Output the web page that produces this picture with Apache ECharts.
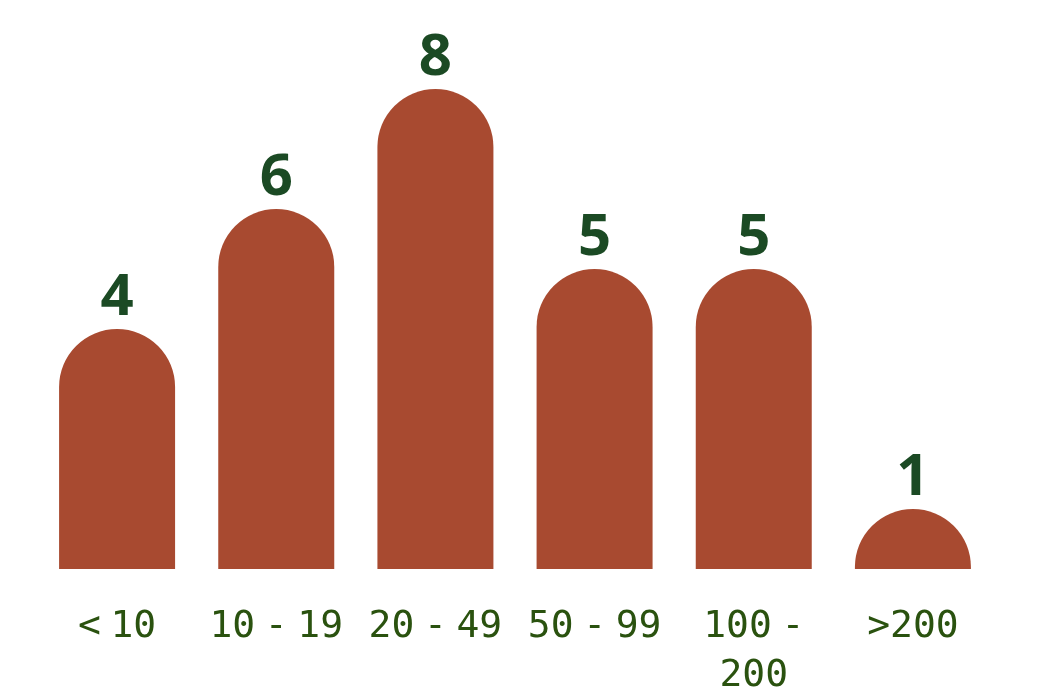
<!DOCTYPE html>
<html>
<head>
<meta charset="utf-8">
<script src="https://cdn.jsdelivr.net/npm/echarts@6/dist/echarts.min.js"></script>
<style>
  html, body { margin: 0; padding: 0; background: #ffffff; }
  #chart { width: 1043px; height: 695px; }
</style>
</head>
<body>
<div id="chart"></div>
<script>
const categories = ['< 10', '10 - 19', '20 - 49', '50 - 99', '100 -\n200', '>200'];
const counts = [4, 6, 8, 5, 5, 1];

const chart = echarts.init(document.getElementById('chart'), null, { renderer: 'canvas' });
chart.setOption({
  backgroundColor: '#ffffff',
  animation: false,
  grid: { left: 37.5, right: 50.5, top: 29, bottom: 126, containLabel: false, outerBoundsMode: 'none' },
  xAxis: {
    type: 'category',
    data: categories,
    axisLine: { show: false },
    axisTick: { show: false },
    axisLabel: {
      interval: 0,
      margin: 34,
      fontFamily: 'DejaVu Sans Mono',
      fontSize: 38,
      lineHeight: 49,
      color: '#2a520f',
      formatter: function (v) {
        return v.split('\n').map(function (line) {
          return line.replace(/ /g, '{s| }');
        }).join('\n');
      },
      rich: {
        s: { fontFamily: 'DejaVu Sans Mono', fontSize: 16, lineHeight: 49 }
      }
    }
  },
  yAxis: {
    type: 'value',
    min: 0,
    max: 9,
    show: false,
    splitLine: { show: false }
  },
  series: [{
    type: 'bar',
    data: counts,
    barWidth: 116,
    itemStyle: { color: '#a84a30', borderRadius: [58, 58, 0, 0] },
    label: {
      show: true,
      position: 'top',
      distance: 2,
      fontFamily: 'Open Sans',
      fontWeight: 'bold',
      fontSize: 58,
      color: '#1b4a24'
    }
  }]
});
</script>
</body>
</html>
